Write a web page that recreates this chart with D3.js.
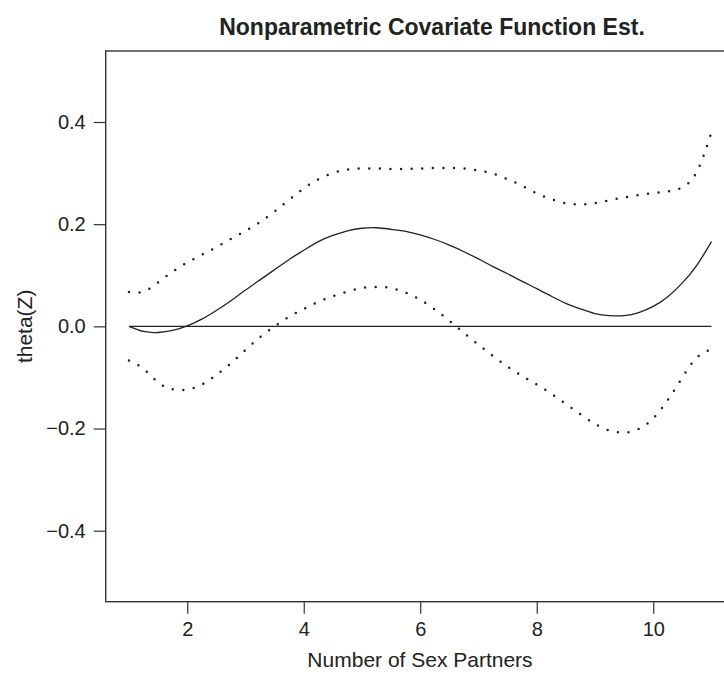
<!DOCTYPE html>
<html><head><meta charset="utf-8">
<script src="https://cdn.jsdelivr.net/npm/d3@7"></script>
<style>body{margin:0;background:#fff}svg{display:block}text{font-family:"Liberation Sans",Arial,sans-serif;fill:#222}</style>
</head><body><svg id="c" width="724" height="675"></svg>
<script>
const title = "Nonparametric Covariate Function Est.";
const xLabel = "Number of Sex Partners";
const yLabel = "theta(Z)";
const xTicks = [2, 4, 6, 8, 10];
const yTicks = [0.4, 0.2, 0.0, -0.2, -0.4];
const xs = [1,1.25,1.5,1.75,2,2.25,2.5,2.75,3,3.25,3.5,3.75,4,4.25,4.5,4.75,5,5.25,5.5,5.75,6,6.25,6.5,6.75,7,7.25,7.5,7.75,8,8.25,8.5,8.75,9,9.25,9.5,9.75,10,10.25,10.5,10.75,11];
const estimate = [0,-0.010,-0.012,-0.008,0.001,0.014,0.031,0.050,0.071,0.091,0.111,0.131,0.149,0.166,0.178,0.187,0.192,0.193,0.190,0.186,0.179,0.170,0.159,0.146,0.132,0.117,0.103,0.088,0.074,0.059,0.045,0.034,0.025,0.021,0.021,0.027,0.039,0.058,0.085,0.120,0.166];
const upper = [0.067,0.068,0.086,0.107,0.125,0.140,0.155,0.171,0.187,0.204,0.225,0.248,0.270,0.288,0.300,0.307,0.309,0.309,0.308,0.308,0.309,0.310,0.310,0.309,0.305,0.299,0.288,0.275,0.260,0.249,0.241,0.239,0.241,0.247,0.252,0.257,0.261,0.264,0.272,0.303,0.380];
const lower = [-0.067,-0.083,-0.110,-0.123,-0.124,-0.114,-0.095,-0.072,-0.046,-0.021,0.000,0.019,0.034,0.048,0.059,0.068,0.075,0.077,0.075,0.066,0.052,0.033,0.011,-0.013,-0.036,-0.058,-0.079,-0.097,-0.114,-0.132,-0.152,-0.172,-0.191,-0.204,-0.208,-0.201,-0.180,-0.144,-0.100,-0.061,-0.045];
const zeroX = [1, 11];
const zeroY = [0, 0];

const svg = d3.select("#c");
const x = d3.scaleLinear().domain([0.6, 11.4]).range([105.7, 734.8]);
const y = d3.scaleLinear().domain([-0.539, 0.539]).range([601.7, 51]);
const ink = "#222";

// frame
svg.append("rect").attr("x", x(0.6)).attr("y", y(0.539))
  .attr("width", x(11.4) - x(0.6)).attr("height", y(-0.539) - y(0.539))
  .attr("fill", "none").attr("stroke", "#333").attr("stroke-width", 1.4);

// axes
const xa = svg.append("g").attr("transform", `translate(0,${y(-0.539)})`)
  .call(d3.axisBottom(x).tickValues(xTicks).tickSize(12).tickPadding(8).tickFormat(d3.format("d")));
const ya = svg.append("g").attr("transform", `translate(${x(0.6)},0)`)
  .call(d3.axisLeft(y).tickValues(yTicks).tickSize(12).tickPadding(8)
    .tickFormat(d => d3.format(".1f")(d).replace("-", "\u2212")));
[xa, ya].forEach(g => {
  g.select(".domain").remove();
  g.selectAll("line").attr("stroke", "#333").attr("stroke-width", 1.2);
  g.selectAll("text").attr("font-size", 20).attr("fill", ink)
    .attr("font-family", '"Liberation Sans",Arial,sans-serif');
});

const line = d3.line().x(d => x(d[0])).y(d => y(d[1])).curve(d3.curveNatural);
const pts = arr => xs.map((v, i) => [v, arr[i]]);

svg.append("path").datum(zeroX.map((v, i) => [v, zeroY[i]])).attr("d", d3.line().x(d => x(d[0])).y(d => y(d[1])))
  .attr("fill", "none").attr("stroke", ink).attr("stroke-width", 1.3);
svg.append("path").datum(pts(estimate)).attr("d", line)
  .attr("fill", "none").attr("stroke", ink).attr("stroke-width", 1.3);
[upper, lower].forEach(arr => {
  svg.append("path").datum(pts(arr)).attr("d", line)
    .attr("fill", "none").attr("stroke", ink).attr("stroke-width", 2.5)
    .attr("stroke-linecap", "round").attr("stroke-dasharray", "0 10.6");
});

svg.append("text").attr("x", 432).attr("y", 35).attr("text-anchor", "middle")
  .attr("font-size", 23).attr("font-weight", "bold").text(title);
svg.append("text").attr("x", 420).attr("y", 667).attr("text-anchor", "middle")
  .attr("font-size", 21).text(xLabel);
svg.append("text").attr("transform", `translate(32,${y(0)}) rotate(-90)`).attr("text-anchor", "middle")
  .attr("font-size", 21).text(yLabel);
</script></body></html>
